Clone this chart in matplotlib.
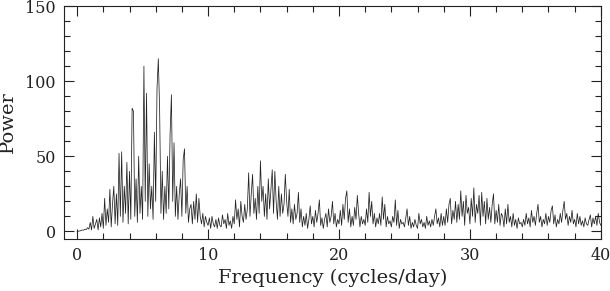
import numpy as np
import matplotlib
matplotlib.use("Agg")
import matplotlib.pyplot as plt
from matplotlib.ticker import MultipleLocator

# Frequency grid (cycles/day), step 0.1 from 0 to 40
freq_start = 0.0
freq_step = 0.1

# Power values, 10 per cycle/day
power = [
    0, 0.1, 0.3, 0.6, 1.0, 0.8, 1.5, 1.2, 2.5, 1.5,
    6, 1, 10, 2, 5, 8, 1, 9, 3, 12,
    2, 22, 4, 15, 6, 28, 3, 18, 30, 5,
    25, 4, 52, 10, 53, 6, 30, 12, 46, 5,
    40, 8, 82, 80, 10, 35, 6, 50, 12, 30,
    8, 110, 20, 92, 10, 45, 15, 30, 8, 66,
    20, 95, 115, 81, 12, 40, 8, 30, 12, 50,
    15, 65, 91, 20, 59, 10, 30, 8, 25, 35,
    10, 48, 55, 12, 30, 6, 15, 18, 5, 20,
    8, 25, 6, 22, 10, 5, 12, 3, 10, 6,
    4, 9, 2, 10, 5, 3, 8, 2, 9, 4,
    3, 11, 5, 8, 2, 12, 4, 7, 2, 10,
    5, 21, 8, 15, 3, 20, 10, 6, 18, 8,
    15, 39, 10, 25, 38, 12, 22, 8, 30, 12,
    47, 20, 30, 10, 25, 8, 35, 15, 28, 41,
    12, 40, 20, 8, 30, 10, 25, 12, 18, 38,
    20, 10, 28, 6, 15, 5, 18, 8, 12, 26,
    6, 15, 3, 10, 4, 12, 2, 8, 17, 5,
    10, 3, 14, 6, 12, 21, 4, 9, 2, 8,
    12, 3, 15, 6, 10, 20, 5, 12, 3, 8,
    5, 14, 4, 18, 8, 22, 27, 6, 15, 3,
    10, 4, 16, 8, 24, 12, 3, 10, 5, 8,
    4, 15, 6, 26, 10, 20, 5, 12, 3, 9,
    5, 12, 4, 23, 8, 18, 3, 10, 5, 7,
    3, 10, 6, 21, 4, 14, 2, 8, 5, 6,
    3, 9, 15, 4, 10, 2, 6, 3, 8, 4,
    2, 12, 5, 8, 3, 6, 2, 10, 4, 7,
    3, 8, 4, 10, 15, 5, 9, 3, 12, 4,
    10, 4, 15, 6, 18, 22, 5, 14, 8, 20,
    6, 18, 8, 27, 10, 20, 4, 24, 12, 16,
    5, 22, 10, 29, 6, 18, 12, 24, 4, 26,
    10, 20, 5, 22, 8, 16, 6, 18, 25, 5,
    14, 6, 18, 4, 12, 10, 3, 15, 5, 18,
    6, 10, 3, 12, 4, 8, 2, 9, 5, 6,
    3, 8, 4, 12, 5, 9, 3, 14, 6, 10,
    4, 12, 18, 6, 10, 3, 8, 5, 12, 4,
    10, 6, 14, 17, 5, 11, 3, 8, 5, 12,
    6, 14, 20, 8, 12, 4, 10, 6, 14, 5,
    8, 3, 12, 5, 10, 4, 7, 3, 9, 5,
    4, 8, 11, 3, 9, 5, 10, 4, 12, 6,
    4,
]

x_ticks = [0, 10, 20, 30, 40]
y_ticks = [0, 50, 100, 150]
x_label = "Frequency (cycles/day)"
y_label = "Power"

freq = freq_start + freq_step * np.arange(len(power))

plt.rcParams['font.family'] = ['DejaVu Serif']

fig = plt.figure(figsize=(6.10, 2.91), dpi=100)
ax = fig.add_axes([0.105, 0.179, 0.880, 0.800])
ax.plot(freq, power, color='#222222', linewidth=0.55)

ax.set_xlim(-1, 40)
ax.set_ylim(-5, 150)
ax.set_xticks(x_ticks)
ax.set_yticks(y_ticks)
ax.xaxis.set_minor_locator(MultipleLocator(2))
ax.yaxis.set_minor_locator(MultipleLocator(10))
ax.tick_params(which='both', direction='in', top=True, right=True,
               labelsize=11.5, width=0.8, colors='#222222')
ax.tick_params(which='major', length=7, pad=6)
ax.tick_params(which='minor', length=4)
for s in ax.spines.values():
    s.set_linewidth(0.8)
    s.set_color('#222222')

ax.set_xlabel(x_label, fontsize=14, labelpad=3, color='#222222')
ax.set_ylabel(y_label, fontsize=14, labelpad=6, color='#222222')

fig.savefig("out.png", dpi=100)
